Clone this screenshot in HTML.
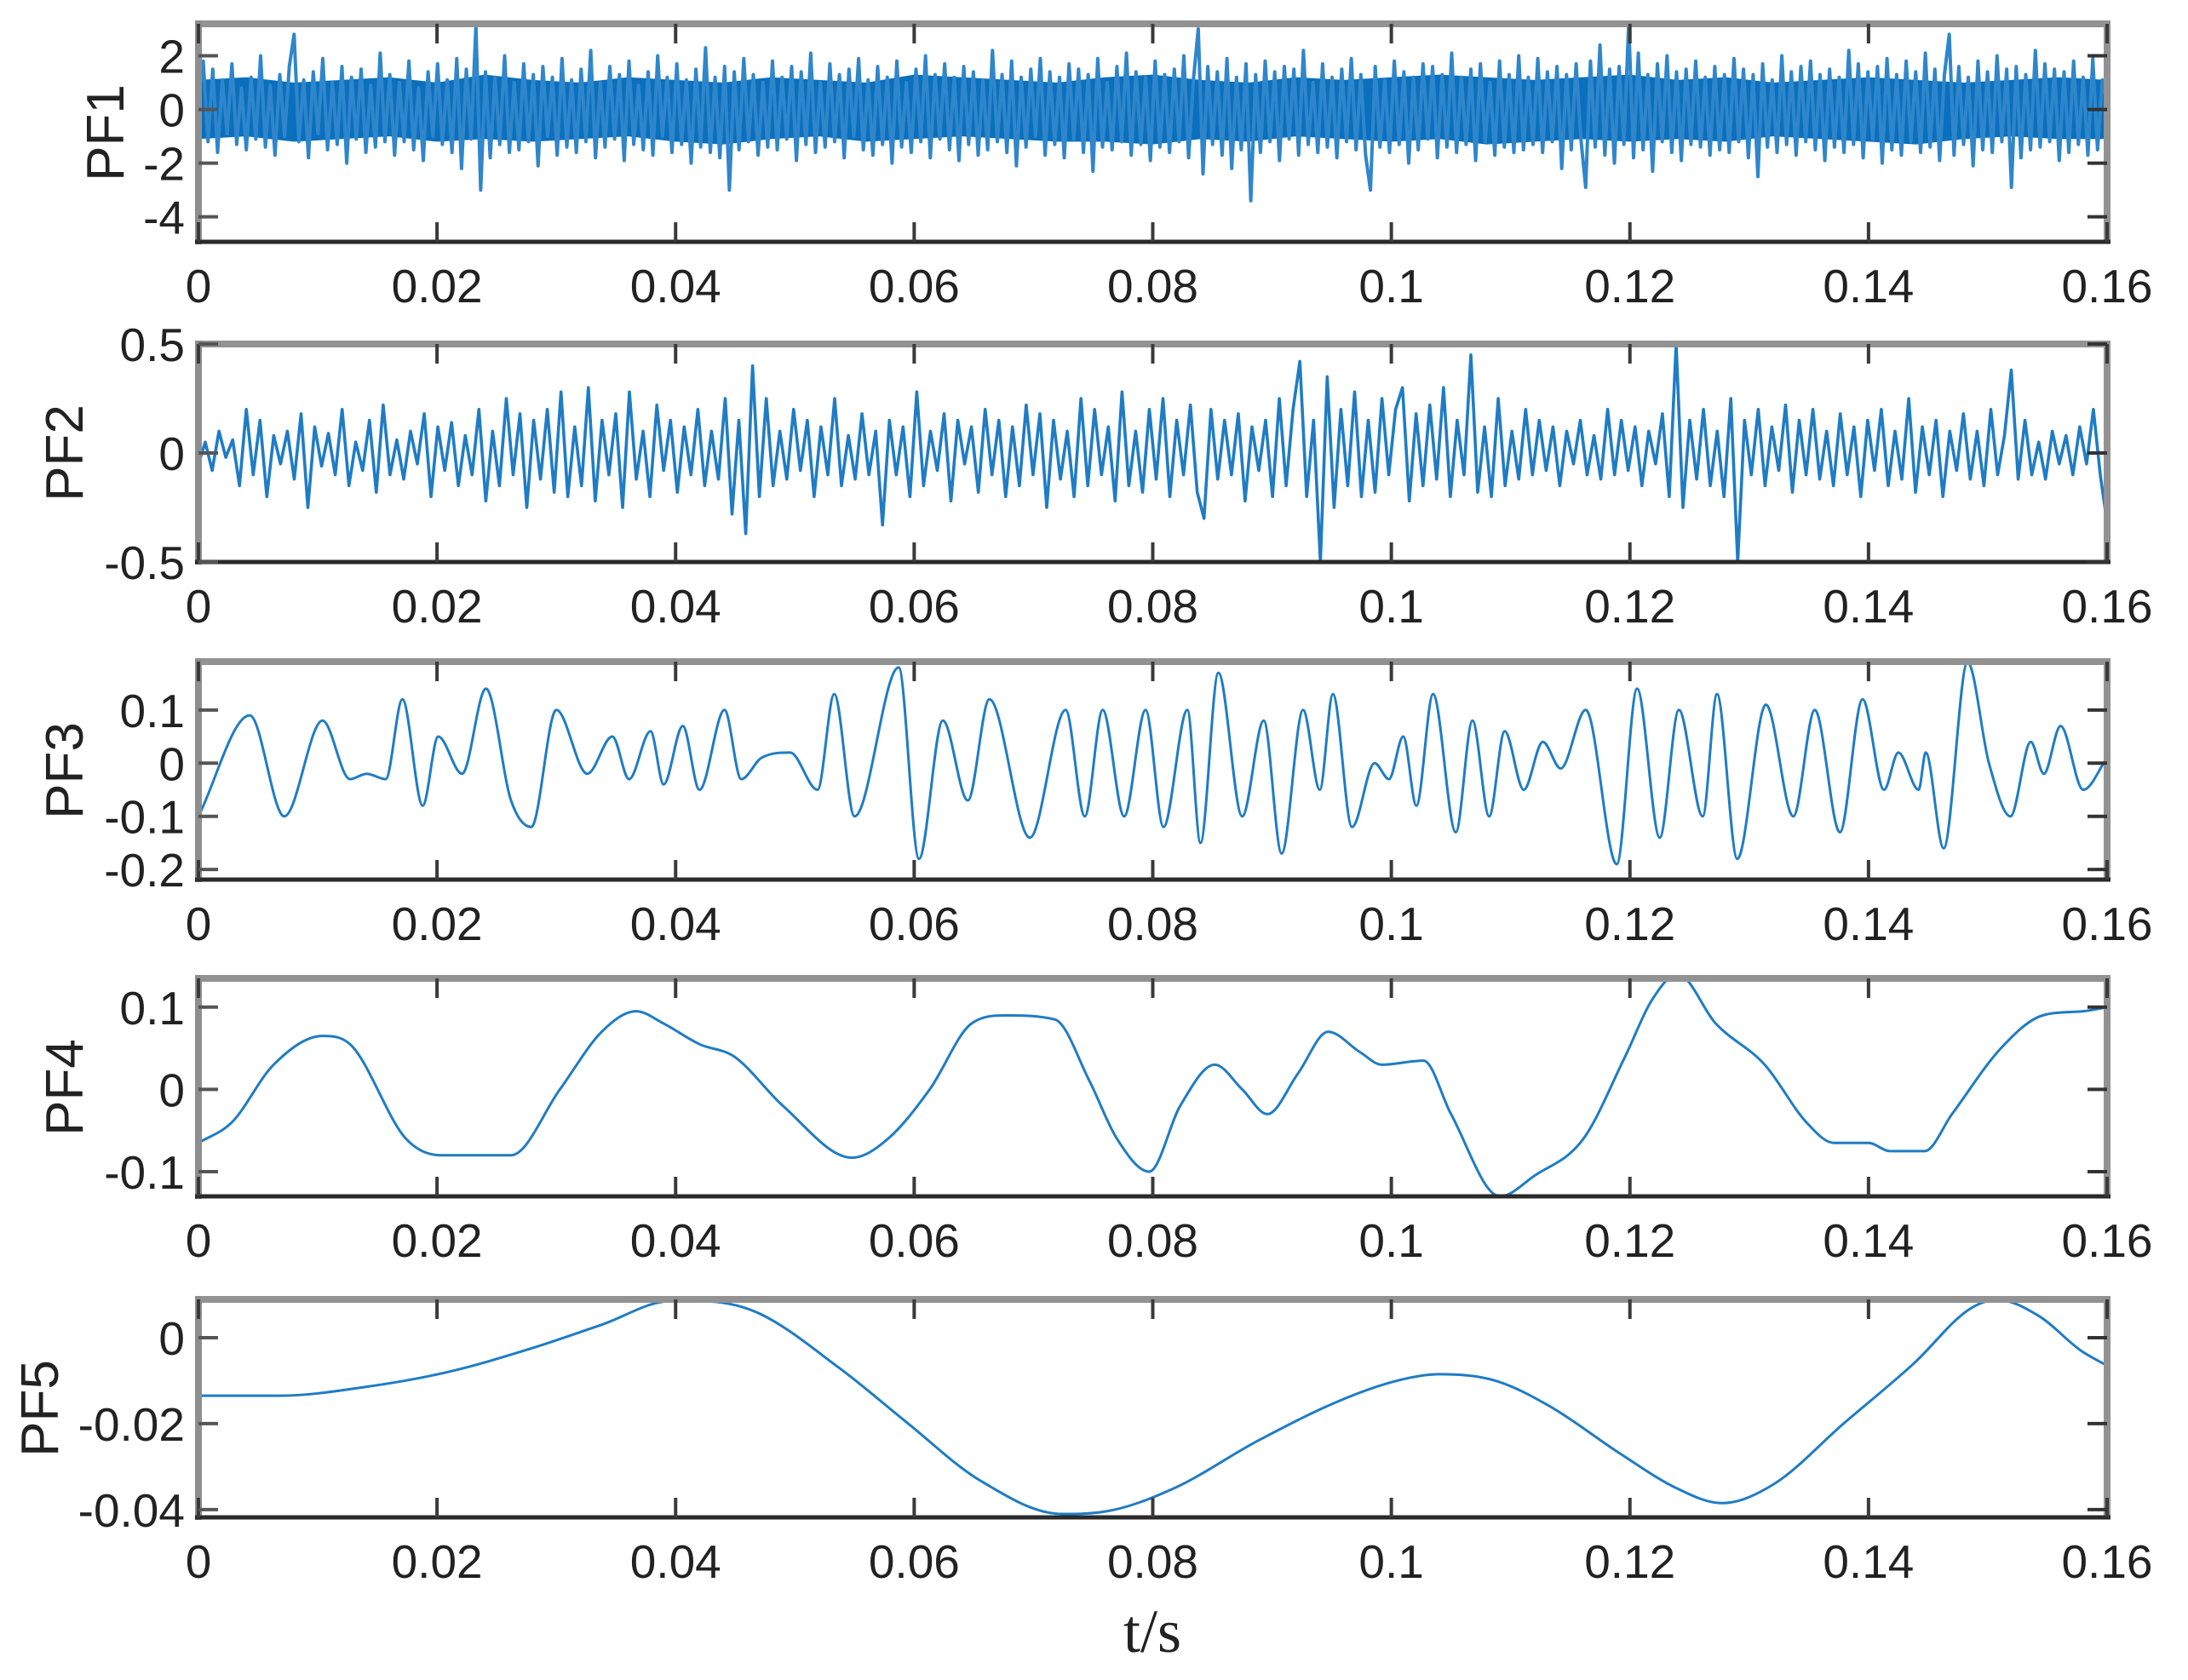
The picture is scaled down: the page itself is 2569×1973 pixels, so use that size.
<!DOCTYPE html>
<html><head><meta charset="utf-8"><style>
html,body{margin:0;padding:0;background:#fff;}
svg{display:block;font-family:"Liberation Sans",sans-serif;}
</style></head><body>
<svg id="chart" width="2569" height="1973" viewBox="0 0 2569 1973" xmlns="http://www.w3.org/2000/svg"></svg>
<script>
// ---- data ----
const xTicks = [0,0.02,0.04,0.06,0.08,0.1,0.12,0.14,0.16];
const xTickLabels = ["0","0.02","0.04","0.06","0.08","0.1","0.12","0.14","0.16"];
const panelNames = ["PF1","PF2","PF3","PF4","PF5"];
const pf1Ticks = [2,0,-2,-4];
const pf2Ticks = [0.5,0,-0.5];
const pf3Ticks = [0.1,0,-0.1,-0.2];
const pf4Ticks = [0.1,0,-0.1];
const pf5Ticks = [0,-0.02,-0.04];
const pf1Values = [0.5,1.8,-1.2,1.5,-1.6,1.1,-0.9,1.7,-1.3,0.8,-1.5,1.2,-1.1,2.0,-1.4,0.9,-1.7,1.3,-1.0,1.6,
2.8,-1.2,1.1,-1.8,1.4,-0.9,1.9,-1.5,1.0,-1.3,1.6,-2.0,1.2,-1.1,1.5,-1.6,0.9,-1.4,2.1,-1.2,
1.3,-1.7,1.0,-1.2,1.8,-1.5,0.8,-1.9,1.4,-1.0,1.7,-1.3,1.1,-1.6,1.9,-2.2,1.5,-1.1,3.1,-3.0,
1.4,-1.8,1.2,-1.3,2.0,-1.6,1.0,-1.5,1.7,-1.2,1.3,-2.1,1.6,-1.0,1.2,-1.7,1.9,-1.4,1.1,-1.6,
1.5,-1.2,2.2,-1.8,1.0,-1.4,1.6,-1.1,1.3,-1.9,1.8,-1.3,0.9,-1.5,1.4,-1.7,2.0,-1.0,1.2,-1.6,
1.7,-1.3,1.1,-2.0,1.5,-1.4,2.3,-1.6,1.2,-1.8,1.6,-3.0,1.4,-1.5,1.9,-1.2,1.3,-1.7,1.0,-1.4,
1.8,-1.5,1.2,-1.1,1.6,-1.9,1.4,-1.3,2.1,-1.6,1.0,-1.4,1.7,-1.2,1.3,-1.8,1.5,-1.0,1.9,-1.5,
1.1,-1.7,1.6,-1.3,1.2,-2.0,1.8,-1.4,1.0,-1.6,1.5,-1.2,2.0,-1.8,1.3,-1.1,1.7,-1.5,1.2,-1.9,
1.6,-1.3,1.4,-1.7,1.1,-1.5,2.2,-1.2,1.3,-1.6,1.8,-2.1,1.2,-1.4,1.5,-1.0,1.9,-1.7,1.4,-1.3,
1.2,-1.8,1.7,-1.1,1.5,-1.6,1.3,-2.3,1.9,-1.4,1.0,-1.5,1.6,-1.2,2.1,-1.7,1.4,-1.3,1.2,-1.9,
1.8,-1.4,1.3,-1.6,1.5,-1.2,2.0,-1.8,1.1,3.0,-2.4,1.6,-1.3,1.4,-1.7,1.9,-2.2,1.2,-1.5,1.7,
-3.4,1.3,-1.6,1.8,-1.2,1.4,-1.9,1.6,-1.1,1.5,-1.7,2.2,-1.3,1.0,-1.6,1.7,-1.4,1.2,-1.8,1.5,
-1.2,1.9,-1.5,1.3,-1.7,-3.0,1.6,-1.4,1.1,-1.6,1.8,-1.3,1.4,-2.0,1.2,-1.5,1.7,-1.1,1.6,-1.8,
1.3,-1.4,2.1,-1.6,1.2,-1.3,1.5,-1.9,1.7,-1.2,1.0,-1.7,1.8,-1.4,1.3,-1.6,2.0,-1.5,1.2,-1.3,
1.9,-1.6,1.4,-1.2,1.6,-2.2,1.3,-1.5,1.7,-1.1,-2.9,1.8,-1.4,2.4,-1.7,1.5,-2.0,1.6,-1.3,3.2,
-1.8,2.1,-1.5,1.3,-2.3,1.7,-1.2,2.0,-1.6,1.4,-1.9,1.5,-1.3,1.8,-1.4,1.2,-1.7,1.6,-1.5,1.3,
-1.6,1.9,-1.2,1.5,-1.8,1.3,-2.5,1.7,-1.4,1.1,-1.6,2.0,-1.3,1.4,-1.7,1.6,-1.2,1.8,-1.5,1.3,
-1.9,1.5,-1.4,1.2,-1.6,2.2,-1.3,1.7,-1.8,1.4,-1.1,1.6,-2.0,1.9,-1.5,1.3,-1.7,1.8,-1.2,1.4,
-1.6,2.1,-1.4,1.5,-1.9,1.3,2.8,-1.7,1.6,-1.3,1.2,-2.1,1.8,-1.5,1.4,-1.6,2.0,-1.2,1.5,-2.9,
1.6,-1.8,1.3,-1.5,2.2,-1.4,1.7,-1.2,1.5,-1.9,1.4,-1.6,1.8,-1.3,1.2,-1.7,1.9,-1.5,1.1,0.3];
// dense core envelope of PF1 (solid band in the picture)
const pf1CoreUpper = [1.1,1.2,1.0,1.1,1.2,1.0,1.3,1.1,1.0,1.2,1.1,1.0,1.2,1.1,1.0,1.3,1.2,1.1,1.0,1.2,1.3,1.1,1.0,1.2,1.1,1.2,1.3,1.2,1.1,1.2,1.3,1.1,1.2,1.0,1.1,1.2,1.1,1.0,1.1,1.2,1.1];
const pf1CoreLower = [-1.1,-1.0,-1.2,-1.1,-1.0,-1.2,-1.1,-1.2,-1.1,-1.0,-1.2,-1.3,-1.1,-1.0,-1.2,-1.1,-1.0,-1.1,-1.2,-1.2,-1.3,-1.1,-1.2,-1.0,-1.1,-1.2,-1.1,-1.3,-1.2,-1.1,-1.2,-1.1,-1.2,-1.0,-1.1,-1.2,-1.3,-1.1,-1.0,-1.1,-1.1];
const pf2Values = [-0.05,0.05,-0.08,0.1,-0.02,0.06,-0.15,0.2,-0.1,0.15,-0.2,0.08,-0.05,0.1,-0.12,0.18,-0.25,0.12,-0.06,0.09,
-0.1,0.2,-0.15,0.05,-0.08,0.15,-0.18,0.22,-0.1,0.06,-0.12,0.1,-0.05,0.18,-0.2,0.12,-0.08,0.14,-0.15,0.08,
-0.1,0.2,-0.22,0.1,-0.15,0.25,-0.1,0.18,-0.25,0.15,-0.12,0.2,-0.18,0.28,-0.2,0.12,-0.15,0.3,-0.22,0.15,
-0.1,0.18,-0.25,0.28,-0.12,0.1,-0.2,0.22,-0.08,0.15,-0.18,0.12,-0.1,0.2,-0.15,0.1,-0.12,0.25,-0.28,0.15,
-0.37,0.4,-0.2,0.25,-0.15,0.1,-0.12,0.2,-0.08,0.15,-0.2,0.12,-0.1,0.25,-0.15,0.08,-0.12,0.18,-0.1,0.1,
-0.33,0.15,-0.1,0.12,-0.2,0.28,-0.15,0.1,-0.08,0.18,-0.22,0.15,-0.05,0.12,-0.18,0.2,-0.1,0.15,-0.2,0.12,
-0.15,0.22,-0.1,0.18,-0.25,0.15,-0.12,0.1,-0.2,0.25,-0.15,0.2,-0.1,0.12,-0.22,0.28,-0.15,0.1,-0.18,0.2,
-0.12,0.25,-0.2,0.15,-0.1,0.22,-0.18,-0.3,0.2,-0.12,0.15,-0.1,0.18,-0.22,0.12,-0.08,0.15,-0.2,0.25,-0.15,
0.2,0.42,-0.2,0.15,-0.5,0.35,-0.25,0.2,-0.15,0.28,-0.2,0.15,-0.18,0.25,-0.1,0.2,0.3,-0.22,0.18,-0.15,
0.22,-0.12,0.3,-0.2,0.15,-0.1,0.45,-0.18,0.12,-0.2,0.25,-0.15,0.1,-0.12,0.2,-0.1,0.15,-0.08,0.12,-0.15,
0.1,-0.05,0.15,-0.1,0.08,-0.12,0.2,-0.1,0.15,-0.08,0.12,-0.15,0.1,-0.05,0.18,-0.2,0.5,-0.25,0.15,-0.12,
0.2,-0.15,0.1,-0.2,0.25,-0.5,0.15,-0.1,0.2,-0.15,0.12,-0.08,0.22,-0.18,0.15,-0.1,0.2,-0.12,0.1,-0.15,
0.18,-0.1,0.12,-0.2,0.15,-0.08,0.2,-0.15,0.1,-0.12,0.25,-0.18,0.12,-0.1,0.15,-0.2,0.1,-0.08,0.18,-0.12,
0.1,-0.15,0.2,-0.1,0.08,0.38,-0.12,0.15,-0.1,0.05,-0.12,0.1,-0.05,0.08,-0.1,0.12,-0.05,0.2,-0.1,-0.32];
const pf3TimesMs = [0,4.3,7.2,10.4,12.7,14.1,15.7,17.1,18.8,20.1,22.1,24.1,26.2,27.9,30.0,32.6,34.7,36.1,37.9,39.0,40.6,42.0,44.1,45.5,47.2,49.6,51.9,53.3,55.0,58.7,60.4,62.4,64.5,66.3,69.7,72.7,74.3,75.8,77.6,79.4,80.9,82.9,84.0,85.5,87.5,89.3,90.8,92.6,94.0,95.1,96.7,98.6,99.8,101.0,102.1,103.5,105.4,106.8,108.2,109.5,111.1,112.7,114.2,116.3,118.9,120.6,122.5,124.1,126.1,127.3,129.0,131.4,133.7,135.5,137.6,139.5,141.3,142.5,144.2,144.8,146.3,148.3,150.1,151.9,153.6,154.7,156.1,158.0,160];
const pf3Values = [-0.1,0.09,-0.1,0.08,-0.03,-0.02,-0.03,0.12,-0.08,0.05,-0.02,0.14,-0.07,-0.12,0.1,-0.02,0.05,-0.03,0.06,-0.04,0.07,-0.05,0.1,-0.03,0.01,0.02,-0.05,0.13,-0.1,0.18,-0.18,0.08,-0.07,0.12,-0.14,0.1,-0.1,0.1,-0.1,0.1,-0.12,0.1,-0.15,0.17,-0.1,0.08,-0.17,0.1,-0.05,0.13,-0.12,0.0,-0.03,0.05,-0.08,0.13,-0.13,0.08,-0.1,0.06,-0.05,0.04,-0.01,0.1,-0.19,0.14,-0.14,0.1,-0.1,0.13,-0.18,0.11,-0.1,0.1,-0.13,0.12,-0.05,0.02,-0.05,0.02,-0.16,0.19,0.0,-0.1,0.04,-0.02,0.07,-0.05,0.01];
const pf4TimesMs = [0,2.8,6.3,10.4,12.7,17.4,20.3,26.2,30.3,33.8,36.7,39.0,42.0,44.9,49.0,54.8,57.8,61.3,64.8,67.7,71.8,74.7,77.0,79.7,82.3,85.2,87.5,89.6,92.2,94.7,97.4,99.2,102.7,105.0,109.1,112.0,116.1,119.6,121.9,124.0,127.2,131.3,134.8,137.1,140.0,141.8,144.7,147.0,151.1,154.6,158.0,160];
const pf4Values = [-0.065,-0.04,0.03,0.065,0.055,-0.06,-0.08,-0.08,0.0,0.07,0.095,0.08,0.055,0.04,-0.02,-0.083,-0.06,0.0,0.08,0.09,0.085,0.01,-0.06,-0.1,-0.02,0.03,0.0,-0.03,0.02,0.07,0.045,0.03,0.035,-0.03,-0.13,-0.105,-0.06,0.04,0.11,0.14,0.08,0.03,-0.04,-0.065,-0.065,-0.075,-0.075,-0.03,0.05,0.09,0.095,0.1];
const pf5TimesMs = [0,6.9,13.9,20.9,27.9,33.8,39.6,42.0,46.7,53.7,59.5,65.4,72.4,75.9,81.8,88.8,95.8,100.5,104.0,108.7,113.3,119.2,123.9,127.7,132.1,137.9,143.8,148.4,150.8,154.3,157.8,160];
const pf5Values = [-0.0135,-0.0135,-0.0115,-0.008,-0.0025,0.003,0.0085,0.0085,0.006,-0.007,-0.02,-0.033,-0.041,-0.0405,-0.035,-0.024,-0.0145,-0.01,-0.0085,-0.01,-0.016,-0.027,-0.035,-0.0385,-0.034,-0.02,-0.006,0.0065,0.0088,0.005,-0.003,-0.0065];

// ---- layout ----
const L = 233, R = 2474, H = 256;
const tops = [28, 404, 777, 1149, 1526];
const yDomains = [[-4.93,3.19],[-0.5,0.5],[-0.219,0.191],[-0.13,0.135],[-0.0418,0.0089]];
const yTickSets = [pf1Ticks,pf2Ticks,pf3Ticks,pf4Ticks,pf5Ticks];
const labelX = [123,75,75,75,46];
const NS = "http://www.w3.org/2000/svg";
const svg = document.getElementById('chart');
function mk(tag, attrs, parent){const e=document.createElementNS(NS,tag);for(const k in attrs)e.setAttribute(k,attrs[k]);(parent||svg).appendChild(e);return e;}
const xScale = t => L + (t/0.16)*(R-L);
function yScaleFor(i){const [a,b]=yDomains[i];const top=tops[i];return v=>top+H-(v-a)/(b-a)*H;}
function monotonePath(xs, ys){
  const n=xs.length; const d=[],m=new Array(n);
  for(let i=0;i<n-1;i++) d.push((ys[i+1]-ys[i])/(xs[i+1]-xs[i]));
  m[0]=d[0]; m[n-1]=d[n-2];
  for(let i=1;i<n-1;i++){ m[i]=(d[i-1]*d[i]<=0)?0:(d[i-1]+d[i])/2; }
  for(let i=0;i<n-1;i++){ if(d[i]===0){m[i]=0;m[i+1]=0;continue;} const a=m[i]/d[i],b=m[i+1]/d[i],s=a*a+b*b; if(s>9){const t=3/Math.sqrt(s);m[i]=t*a*d[i];m[i+1]=t*b*d[i];} }
  let p='M'+xs[0].toFixed(1)+','+ys[0].toFixed(1);
  for(let i=0;i<n-1;i++){const h=(xs[i+1]-xs[i])/3;
    p+='C'+(xs[i]+h).toFixed(1)+','+(ys[i]+m[i]*h).toFixed(1)+' '+(xs[i+1]-h).toFixed(1)+','+(ys[i+1]-m[i+1]*h).toFixed(1)+' '+xs[i+1].toFixed(1)+','+ys[i+1].toFixed(1);}
  return p;
}
for(let i=0;i<5;i++){
  const top=tops[i], bot=top+H, ys=yScaleFor(i);
  const g=mk('g',{});
  
  
  const cp=mk('clipPath',{id:'clip'+i},g); mk('rect',{x:L,y:top,width:R-L,height:H},cp);
  if(i===0){
    const n=pf1CoreUpper.length; let bd='';
    pf1CoreUpper.forEach((v,k)=>{bd+=(k?'L':'M')+xScale(k/(n-1)*0.16).toFixed(1)+','+ys(v).toFixed(1);});
    for(let k=n-1;k>=0;k--){bd+='L'+xScale(k/(n-1)*0.16).toFixed(1)+','+ys(pf1CoreLower[k]).toFixed(1);}
    const band=mk('path',{d:bd+'Z',fill:'#0a6fbd','clip-path':'url(#clip0)'},g);
    
    
  }
  let d='';
  if(i<2){
    const vals=i===0?pf1Values:pf2Values; const n=vals.length;
    vals.forEach((v,k)=>{d+=(k?'L':'M')+xScale(k/(n-1)*0.16).toFixed(1)+','+ys(v).toFixed(1);});
  } else {
    const tms=[pf3TimesMs,pf4TimesMs,pf5TimesMs][i-2], vals=[pf3Values,pf4Values,pf5Values][i-2];
    d=monotonePath(tms.map(t=>xScale(t/1000)), vals.map(ys));
  }
  const sw=[4,3.6,3,3,3][i];
  const line=mk('path',{d:d,fill:'none',stroke:i===0?'#2f86cb':'#1f7cc4','stroke-width':sw,'stroke-linejoin':'round','clip-path':'url(#clip'+i+')'},g);
  
  
  const fr=mk('g',{},g);
  
  
  mk('line',{x1:L,y1:top,x2:R,y2:top,stroke:'#929292','stroke-width':8},fr);
  mk('line',{x1:R,y1:top-4,x2:R,y2:bot,stroke:'#929292','stroke-width':8},fr);
  mk('line',{x1:L,y1:top-4,x2:L,y2:bot+3,stroke:'#8e8e8e','stroke-width':8},fr);
  mk('line',{x1:L-4,y1:bot,x2:R+4,y2:bot,stroke:'#2a2a2a','stroke-width':5},fr);
  xTicks.forEach((t,k)=>{
    const x=xScale(t);
    mk('line',{x1:x,y1:bot,x2:x,y2:bot-23,stroke:'#3a3a3a','stroke-width':4},fr);
    mk('line',{x1:x,y1:top,x2:x,y2:top+23,stroke:'#3a3a3a','stroke-width':4},fr);
    const tx=mk('text',{x:x,y:bot+71,'font-size':55,'text-anchor':'middle',fill:'#222'});
    tx.textContent=xTickLabels[k];
    
    
  });
  yTickSets[i].forEach(v=>{
    const y=ys(v);
    mk('line',{x1:L,y1:y,x2:L+23,y2:y,stroke:'#555','stroke-width':4},fr);
    mk('line',{x1:R,y1:y,x2:R-23,y2:y,stroke:'#333','stroke-width':4},fr);
    const ty=mk('text',{x:217,y:y+20,'font-size':55,'text-anchor':'end',fill:'#222'});
    ty.textContent=String(v);
    
    
  });
  const cy=top+H/2;
  const lab=mk('text',{x:labelX[i],y:cy,'font-size':62,'text-anchor':'middle',fill:'#222',transform:'rotate(-90 '+labelX[i]+' '+cy+') translate(0 22)'});
  lab.textContent=panelNames[i];
  
  
}
const xt=mk('text',{x:1353,y:1940,'font-size':72,'text-anchor':'middle',fill:'#222','font-family':'Liberation Serif, serif'});
xt.textContent='t/s';


</script>
</body></html>
